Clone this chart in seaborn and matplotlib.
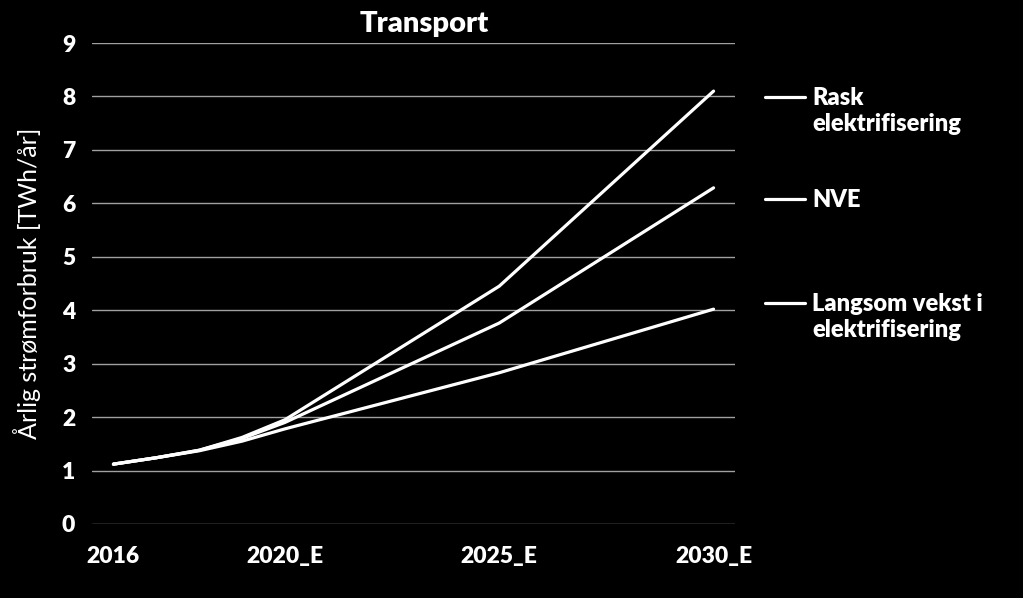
import pandas as pd
import matplotlib
matplotlib.use("Agg")
import matplotlib.pyplot as plt
import seaborn as sns
from matplotlib.legend_handler import HandlerLine2D

# data
years = [2016, 2017, 2018, 2019, 2020, 2025, 2030]
rask = [1.12, 1.24, 1.38, 1.62, 1.95, 4.45, 8.10]
nve = [1.12, 1.24, 1.38, 1.60, 1.90, 3.76, 6.29]
langsom = [1.12, 1.24, 1.37, 1.55, 1.78, 2.83, 4.02]
scenarios = ["Rask\nelektrifisering", "NVE", "Langsom vekst i\nelektrifisering"]
tick_years = [2016, 2020, 2025, 2030]
tick_labels = ["2016", "2020_E", "2025_E", "2030_E"]

data = pd.DataFrame({
    "year": years * 3,
    "value": rask + nve + langsom,
    "scenario": [scenarios[0]] * 7 + [scenarios[1]] * 7 + [scenarios[2]] * 7,
})

sns.set_theme(style="dark", rc={
    "figure.facecolor": "black", "axes.facecolor": "black",
    "text.color": "white", "axes.labelcolor": "white",
    "xtick.color": "white", "ytick.color": "white",
})
plt.rcParams["font.family"] = ["Lato", "DejaVu Sans"]

fig = plt.figure(figsize=(10.23, 5.98), dpi=100)
ax = fig.add_axes([92 / 1023, 1 - 524 / 598, 643 / 1023, 481 / 598])

sns.lineplot(data=data, x="year", y="value", hue="scenario", hue_order=scenarios,
             palette=["white"] * 3, linewidth=2.3, ax=ax, legend=False,
             solid_capstyle="round", solid_joinstyle="round")

ax.set_xlim(2015.5, 2030.5)
ax.set_ylim(0, 9)
ax.set_yticks(range(10))
ax.set_xticks(tick_years)
ax.set_xticklabels(tick_labels)
for lab in ax.get_xticklabels() + ax.get_yticklabels():
    lab.set_fontweight("heavy")
    lab.set_fontsize(16.5)
ax.tick_params(axis="y", length=0, pad=12)
ax.tick_params(axis="x", length=0, pad=16)
ax.yaxis.grid(True, color="#a0a0a0", linewidth=1)
ax.xaxis.grid(False)
for s in ax.spines.values():
    s.set_visible(False)

ax.set_xlabel("")
ax.set_ylabel("Årlig strømforbruk [TWh/år]", fontsize=18, labelpad=15)
ax.set_title("Transport", fontsize=21, fontweight="heavy", pad=8, x=0.516)


class FirstLine(HandlerLine2D):
    def __init__(self, shift=0, **kw):
        super().__init__(**kw)
        self.shift = shift

    def create_artists(self, legend, orig_handle, xdescent, ydescent,
                       width, height, fontsize, trans):
        return super().create_artists(legend, orig_handle, xdescent,
                                      ydescent - 2 * self.shift, width,
                                      height, fontsize, trans)


lines = ax.get_lines()
centers = [111, 200, 317]
shifts = [10.5, 0, 10.5]
for line, label, yc, sh in zip(lines, scenarios, centers, shifts):
    leg = fig.legend([line], [label], loc="center left",
                     bbox_to_anchor=(765 / 1023, 1 - yc / 598),
                     frameon=False, fontsize=17, handlelength=1.7,
                     handletextpad=0.3, borderpad=0, borderaxespad=0,
                     handler_map={line: FirstLine(shift=sh)})
    for t in leg.get_texts():
        t.set_fontweight("heavy")
        t.set_color("white")
        t.set_linespacing(1.22)

fig.savefig("out.png", dpi=100, facecolor="black")
